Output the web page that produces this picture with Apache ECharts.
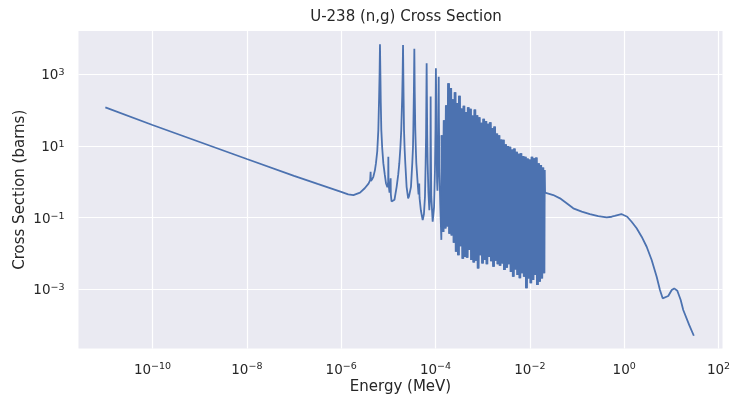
<!DOCTYPE html>
<html><head><meta charset="utf-8">
<script src="https://cdn.jsdelivr.net/npm/echarts@6/dist/echarts.min.js"></script>
<style>html,body{margin:0;padding:0;background:#fff}#chart{width:731px;height:396px}</style>
</head><body><div id="chart"></div>
<script>
const chartTitle = 'U-238 (n,g) Cross Section';
const xName = 'Energy (MeV)';
const yName = 'Cross Section (barns)';
const xTickExponents = [-10, -8, -6, -4, -2, 0, 2];
const yTickExponents = [-3, -1, 1, 3];

// 1/v region (MeV, barns)
const thermalEnergy = [1e-11, 1e-10, 1e-9, 1e-8, 1e-7, 3.16e-7, 1e-6, 1.41e-6, 1.82e-6, 2.51e-6,
  3.16e-6, 3.80e-6, 4.12e-6, 4.21e-6, 4.27e-6, 4.57e-6, 4.81e-6, 5.19e-6, 5.47e-6, 5.82e-6];
const thermalSigma = [120, 38.5, 12.9, 4.33, 1.47, 0.871, 0.525, 0.447, 0.427, 0.501,
  0.661, 0.891, 1.12, 1.91, 1.05, 1.20, 1.38, 2.09, 3.31, 7.08];

// isolated resolved resonances
const resonanceEnergy = [6.14e-6, 6.38e-6, 6.52e-6, 6.65e-6, 6.79e-6, 6.92e-6, 7.10e-6, 7.41e-6, 7.83e-6, 8.41e-6,
  8.91e-6, 9.55e-6, 9.93e-6, 1.00e-5, 1.01e-5, 1.06e-5, 1.11e-5, 1.12e-5, 1.13e-5, 1.17e-5, 1.23e-5,
  1.35e-5, 1.50e-5, 1.62e-5, 1.71e-5, 1.80e-5, 1.88e-5, 1.97e-5, 2.01e-5, 2.05e-5, 2.08e-5, 2.11e-5, 2.15e-5,
  2.21e-5, 2.29e-5, 2.44e-5, 2.63e-5, 2.75e-5,
  3.02e-5, 3.22e-5, 3.33e-5, 3.39e-5, 3.48e-5, 3.56e-5, 3.63e-5, 3.73e-5, 3.82e-5, 3.92e-5, 4.19e-5, 4.37e-5,
  4.52e-5, 4.59e-5, 4.90e-5, 5.35e-5,
  5.69e-5, 5.98e-5, 6.18e-5, 6.31e-5, 6.40e-5, 6.49e-5, 6.58e-5, 6.68e-5, 6.82e-5, 7.08e-5, 7.40e-5,
  7.73e-5, 7.83e-5, 7.89e-5, 7.96e-5, 8.13e-5, 8.71e-5,
  9.33e-5, 9.73e-5, 1.00e-4, 1.01e-4, 1.02e-4, 1.035e-4, 1.05e-4, 1.08e-4, 1.10e-4,
  1.14e-4, 1.15e-4, 1.17e-4, 1.18e-4, 1.21e-4, 1.26e-4, 1.33e-4];
const resonanceSigma = [28.2, 240, 1000, 6920, 1000, 158, 28.2, 8.91, 3.31, 1.58,
  0.912, 0.708, 1.00, 5.01, 0.891, 0.501, 0.562, 1.26, 0.447, 0.282, 0.251,
  0.316, 0.724, 1.58, 3.31, 8.91, 28.2, 251, 1000, 6610, 1000, 200, 28.2,
  8.91, 3.31, 0.724, 0.347, 0.398,
  0.724, 3.31, 8.91, 28.2, 316, 5130, 316, 28.2, 8.91, 3.31, 0.912, 0.447,
  0.891, 0.355, 0.158, 0.0851,
  0.126, 0.380, 3.31, 20.0, 200, 2040, 200, 20.0, 3.31, 0.501, 0.162,
  0.501, 15.8, 240, 15.8, 0.398, 0.0776,
  0.200, 2.00, 31.6, 251, 1480, 251, 15.8, 1.00, 0.562,
  3.98, 63.1, 851, 63.1, 2.51, 0.251, 0.0240];

// dense resonance band (alternating peaks and valleys)
const bandEnergy = [1.37e-4, 1.45e-4, 1.53e-4, 1.61e-4, 1.70e-4, 1.79e-4, 1.89e-4, 1.99e-4, 2.10e-4, 2.22e-4,
  2.34e-4, 2.47e-4, 2.60e-4, 2.75e-4, 2.90e-4, 3.06e-4, 3.22e-4, 3.40e-4, 3.59e-4, 3.79e-4,
  4.00e-4, 4.22e-4, 4.45e-4, 4.69e-4, 4.95e-4, 5.22e-4, 5.51e-4, 5.81e-4, 6.13e-4, 6.47e-4,
  6.83e-4, 7.20e-4, 7.60e-4, 8.02e-4, 8.46e-4, 8.92e-4, 9.41e-4, 9.93e-4, 1.05e-3, 1.11e-3,
  1.17e-3, 1.23e-3, 1.30e-3, 1.37e-3, 1.45e-3, 1.53e-3, 1.61e-3, 1.70e-3, 1.79e-3, 1.89e-3,
  1.99e-3, 2.10e-3, 2.22e-3, 2.34e-3, 2.47e-3, 2.61e-3, 2.75e-3, 2.90e-3, 3.06e-3, 3.23e-3,
  3.41e-3, 3.60e-3, 3.79e-3, 4.00e-3, 4.22e-3, 4.46e-3, 4.70e-3, 4.96e-3, 5.23e-3, 5.52e-3,
  5.83e-3, 6.15e-3, 6.48e-3, 6.84e-3, 7.22e-3, 7.62e-3, 8.04e-3, 8.48e-3, 8.94e-3, 9.43e-3,
  9.95e-3, 1.05e-2, 1.11e-2, 1.17e-2, 1.23e-2, 1.30e-2, 1.37e-2, 1.45e-2, 1.53e-2, 1.61e-2,
  1.70e-2, 1.79e-2, 1.89e-2, 1.99e-2, 2.02e-2];
const bandSigma = [20.0, 0.0398, 52.5, 0.0501, 138, 0.0562, 562, 0.0355, 417, 0.0316,
  200, 0.0200, 316, 0.0112, 158, 0.00891, 251, 0.0158, 112, 0.00708,
  132, 0.00794, 89.1, 0.00759, 120, 0.0126, 110, 0.00661, 70.8, 0.00562,
  105, 0.00631, 72.4, 0.00380, 63.1, 0.00891, 44.7, 0.00525, 57.5, 0.00661,
  50.1, 0.00501, 41.7, 0.00794, 45.7, 0.00603, 31.6, 0.00427, 34.7, 0.00631,
  22.4, 0.00501, 20.0, 0.00457, 15.1, 0.00525, 14.8, 0.00347, 11.2, 0.00398,
  10.0, 0.00501, 9.55, 0.00302, 7.94, 0.00224, 8.51, 0.00355, 6.92, 0.00251,
  6.03, 0.00204, 6.31, 0.00282, 5.25, 0.00224, 5.01, 0.00107, 4.47, 0.00200,
  4.17, 0.00148, 5.01, 0.00182, 4.57, 0.00251, 4.79, 0.00132, 3.31, 0.00162,
  2.95, 0.00200, 2.51, 0.00282, 2.14];

// fast region
const fastEnergy = [2.10e-2, 3.14e-2, 4.36e-2, 6.04e-2, 8.34e-2, 0.126, 0.188, 0.282, 0.426, 0.543,
  0.631, 0.693, 0.759, 0.815, 0.871, 0.912, 0.957, 1.16, 1.44, 1.84,
  2.35, 3.00, 3.83, 4.89, 5.74, 6.55, 6.98, 8.61, 10.2, 11.5,
  13.4, 15.8, 17.9, 24.0, 30.0];
const fastSigma = [0.497, 0.428, 0.346, 0.251, 0.182, 0.147, 0.126, 0.111, 0.102, 0.106,
  0.112, 0.113, 0.120, 0.118, 0.126, 0.120, 0.132, 0.106, 0.0769, 0.0504,
  0.0294, 0.0154, 0.00656, 0.00224, 0.000955, 0.000560, 0.000501, 0.000649, 0.000955, 0.00106,
  0.000912, 0.000501, 0.000264, 0.000100, 0.0000506];

const toLog = (es, ss) => es.map((e, i) => [Math.log10(e), Math.log10(ss[i])]);
const energy = thermalEnergy.concat(resonanceEnergy, bandEnergy, fastEnergy);
const sigma = thermalSigma.concat(resonanceSigma, bandSigma, fastSigma);
const points = toLog(energy, sigma);
const bandPoints = toLog(bandEnergy, bandSigma);

const FONT = 'DejaVu Sans';
const TXT = '#262626';
const BLUE = '#4C72B0';
const powLabel = v => {
  const n = Math.round(v);
  return '10{s|' + (n < 0 ? '\u2212' + (-n) : String(n)) + '}';
};
const labelStyle = (margin, padding) => ({
  formatter: powLabel, margin: margin, padding: padding,
  fontFamily: FONT, fontSize: 13.5, color: TXT, lineHeight: 16,
  rich: { s: { fontFamily: FONT, fontSize: 9.5, color: TXT, lineHeight: 9, verticalAlign: 'top' } }
});

const chart = echarts.init(document.getElementById('chart'), null, { renderer: 'canvas' });
chart.setOption({
  animation: false,
  backgroundColor: '#ffffff',
  title: {
    text: chartTitle, left: 401, top: 5, textAlign: 'center',
    textStyle: { fontFamily: FONT, fontSize: 15, fontWeight: 'normal', color: TXT }
  },
  grid: { left: 78.5, right: 8.5, top: 31, bottom: 47.5, show: true, backgroundColor: '#EAEAF2',
    borderWidth: 0, containLabel: false, outerBoundsMode: 'none' },
  xAxis: {
    type: 'value', min: -11.569, max: 2.085,
    name: xName, nameLocation: 'middle', nameGap: 31.5, nameMoveOverlap: false,
    nameTextStyle: { fontFamily: FONT, fontSize: 15, color: TXT },
    axisLine: { show: false },
    axisTick: { show: false, customValues: xTickExponents },
    axisLabel: Object.assign(labelStyle(13.5, 0), { customValues: xTickExponents }),
    splitLine: { show: true, lineStyle: { color: '#ffffff', width: 1.2 } }
  },
  yAxis: {
    type: 'value', min: -4.652, max: 4.209,
    name: yName, nameLocation: 'middle', nameGap: 50.5, nameMoveOverlap: false,
    nameTextStyle: { fontFamily: FONT, fontSize: 15, color: TXT },
    axisLine: { show: false },
    axisTick: { show: false, customValues: yTickExponents },
    axisLabel: Object.assign(labelStyle(14, [3, 0, 0, 0]), { customValues: yTickExponents }),
    splitLine: { show: true, lineStyle: { color: '#ffffff', width: 1.2 } }
  },
  series: [{
    type: 'line', data: points, showSymbol: false, symbol: 'none', silent: true,
    lineStyle: { color: BLUE, width: 1.8 }, itemStyle: { color: BLUE }, clip: true
  }, {
    type: 'line', data: bandPoints, showSymbol: false, symbol: 'none', silent: true,
    lineStyle: { color: BLUE, width: 2.8 }, itemStyle: { color: BLUE }, clip: true
  }]
});
</script>
</body></html>
